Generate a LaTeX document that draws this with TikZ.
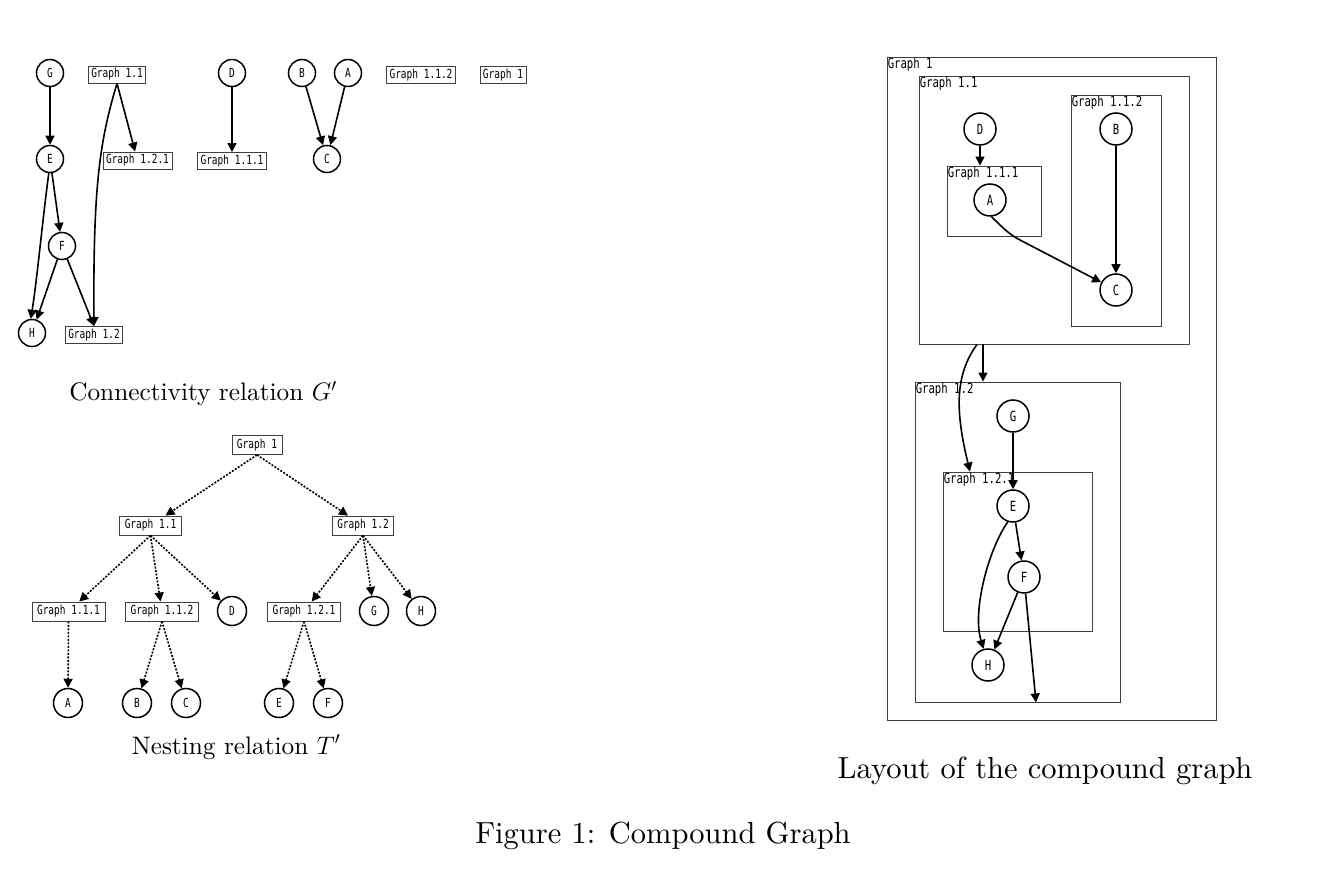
\RequirePackage{fix-cm}
\documentclass[tikz,border=0pt]{standalone}
\usepackage{fontspec}
\newfontfamily\lblfont{DejaVu Sans Mono}[FakeStretch=0.76]
\newfontfamily\capfont{lmroman10-regular.otf}
\usetikzlibrary{arrows.meta,calc}
\begin{document}
\begin{tikzpicture}[x=1pt,y=-1pt,
  lbl/.style={font=\lblfont\fontsize{12.5}{13}\selectfont},
  rlbl/.style={font=\lblfont\fontsize{14}{15}\selectfont},
  vtx/.style={circle,draw,line width=1.5pt,minimum size=27pt,inner sep=0pt,lbl},
  tvtx/.style={vtx,minimum size=29pt},
  rvtx/.style={circle,draw,line width=1.5pt,minimum size=32pt,inner sep=0pt,rlbl},
  gbox/.style={draw,line width=0.9pt,draw=black!75,inner xsep=3pt,inner ysep=0pt,minimum height=17pt,text height=9pt,text depth=2.5pt,lbl},
  tbox/.style={gbox,inner xsep=5pt,minimum height=19pt},
  cbox/.style={draw,line width=0.9pt,draw=black!75,inner sep=0pt},
  clbl/.style={rlbl,anchor=north west,inner sep=1pt},
  e/.style={line width=1.6pt,-{Triangle[length=9pt,width=9pt]}},
  ne/.style={e,dash pattern=on 2pt off 1.5pt},
  captxt/.style={anchor=base,font=\capfont\fontsize{30.5}{36}\selectfont},
  subcap/.style={captxt,font=\capfont\fontsize{25.3}{30}\selectfont}]
\useasboundingbox (0,0) rectangle (1326,874);

% ---------- Connectivity relation G' ----------
\node[vtx] (G) at (50,73) {G};
\node[gbox] (g11) at (117,74.5) {Graph 1.1};
\node[vtx] (D) at (232,73) {D};
\node[vtx] (B) at (302,73) {B};
\node[vtx] (A) at (348,73) {A};
\node[gbox] (g112) at (421,75) {Graph 1.1.2};
\node[gbox] (g1) at (503,75) {Graph 1};
\node[vtx] (E) at (50,159) {E};
\node[gbox] (g121) at (137.5,160.5) {Graph 1.2.1};
\node[gbox] (g111) at (232,161) {Graph 1.1.1};
\node[vtx] (C) at (327,159) {C};
\node[vtx] (F) at (62,246) {F};
\node[vtx] (H) at (32,333) {H};
\node[gbox] (g12) at (94,335) {Graph 1.2};

\draw[e] (G) -- (E);
\draw[e] (g11.south) -- (g121);
\draw[e] (g11.south) .. controls (100,140) and (93,185) .. (g12.north);
\draw[e] (D) -- (g111);
\draw[e] (B) -- (C);
\draw[e] (A) -- (C);
\draw[e] (E) -- (F);
\draw[e] (E.265) .. controls (42,225) and (37,280) .. (H.95);
\draw[e] (F) -- (H);
\draw[e] (F) -- (g12.north);

\node[subcap] (capG) at (203,401) {Connectivity relation $G'$};

% ---------- Nesting relation T' ----------
\node[tbox] (t1) at (257,445) {Graph 1};
\node[tbox] (t11) at (150.5,525.5) {Graph 1.1};
\node[tbox] (t12) at (363,525.5) {Graph 1.2};
\node[tbox] (t111) at (68.5,611.5) {Graph 1.1.1};
\node[tbox] (t112) at (162,611.5) {Graph 1.1.2};
\node[tvtx] (tD) at (232,611) {D};
\node[tbox] (t121) at (304,611.5) {Graph 1.2.1};
\node[tvtx] (tG) at (374,611) {G};
\node[tvtx] (tH) at (421,611) {H};
\node[tvtx] (tA) at (68,703) {A};
\node[tvtx] (tB) at (137,703) {B};
\node[tvtx] (tC) at (186,703) {C};
\node[tvtx] (tE) at (279,703) {E};
\node[tvtx] (tF) at (328,703) {F};

\draw[ne] (t1.south) -- (t11);
\draw[ne] (t1.south) -- (t12);
\draw[ne] (t11.south) -- (t111);
\draw[ne] (t11.south) -- (t112);
\draw[ne] (t11.south) -- (tD);
\draw[ne] (t12.south) -- (t121);
\draw[ne] (t12.south) -- (tG);
\draw[ne] (t12.south) -- (tH);
\draw[ne] (t111.south) -- (tA);
\draw[ne] (t112.south) -- (tB);
\draw[ne] (t112.south) -- (tC);
\draw[ne] (t121.south) -- (tE);
\draw[ne] (t121.south) -- (tF);

\node[subcap] (capT) at (236,754) {Nesting relation $T'$};

% ---------- Layout of the compound graph ----------
\node[cbox,minimum width=329pt,minimum height=663pt] (R1) at (1051.5,388.5) {};
\node[cbox,minimum width=270pt,minimum height=268pt] (R11) at (1054,210) {};
\node[cbox,minimum width=90pt,minimum height=231pt] (R112) at (1116,210.5) {};
\node[cbox,minimum width=94pt,minimum height=70pt] (R111) at (994,201) {};
\node[cbox,minimum width=205pt,minimum height=320pt] (R12) at (1017.5,542) {};
\node[cbox,minimum width=149pt,minimum height=159pt] (R121) at (1017.5,551.5) {};
\node[clbl] (R1l) at (R1.north west) {Graph 1};
\node[clbl] (R11l) at (R11.north west) {Graph 1.1};
\node[clbl] (R112l) at (R112.north west) {Graph 1.1.2};
\node[clbl] (R111l) at (R111.north west) {Graph 1.1.1};
\node[clbl] (R12l) at (R12.north west) {Graph 1.2};
\node[clbl] (R121l) at (R121.north west) {Graph 1.2.1};

\node[rvtx] (rD) at (980,129) {D};
\node[rvtx] (rB) at (1116,129) {B};
\node[rvtx] (rA) at (990,200) {A};
\node[rvtx] (rC) at (1116,290) {C};
\node[rvtx] (rG) at (1013,416) {G};
\node[rvtx] (rE) at (1013,506) {E};
\node[rvtx] (rF) at (1024,577) {F};
\node[rvtx] (rH) at (988,665) {H};

\draw[e] (rD) -- (rD |- R111.north);
\draw[e] (rA.275) .. controls (1003,228) and (1010,235) .. (1020,240) -- (rC);
\draw[e] (rB) -- (rC);
\draw[e] ([xshift=-71pt]R11.south) -- ([xshift=-71pt]R11.south |- R12.north);
\draw[e] ([xshift=-77pt]R11.south) .. controls (955,375) and (955,410) .. ([xshift=-47.5pt]R121.north);
\draw[e] (rG) -- (rE);
\draw[e] (rE) -- (rF);
\draw[e] (rE.252) .. controls (988,550) and (972,612) .. (rH.105);
\draw[e] (rF) -- (rH);
\draw[e] (rF) -- ([xshift=18.5pt]R12.south);

\node[captxt] (capL) at (1045,778) {Layout of the compound graph};

\node[captxt] (capF) at (663,843) {Figure 1: Compound Graph};
\end{tikzpicture}
\end{document}
